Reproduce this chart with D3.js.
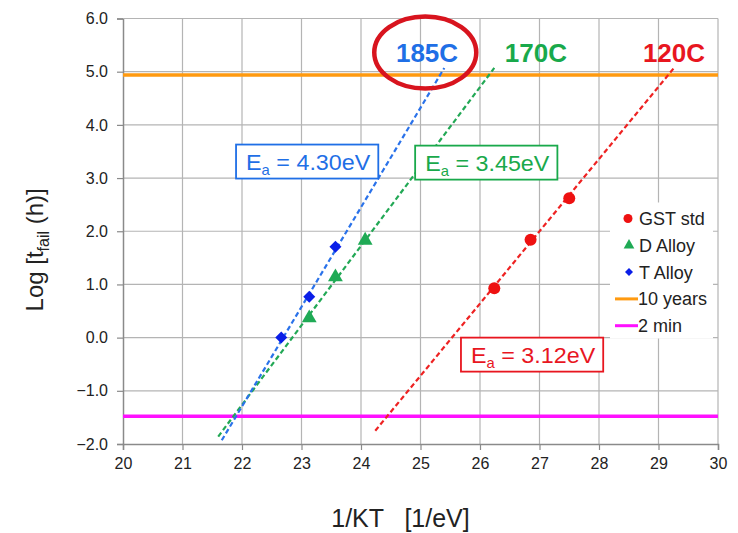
<!DOCTYPE html>
<html>
<head>
<meta charset="utf-8">
<script src="https://cdn.jsdelivr.net/npm/d3@7"></script>
<style>
  body { margin: 0; background: #fff; }
  svg text { font-family: "Liberation Sans", Arial, sans-serif; }
</style>
</head>
<body>
<div id="chart"></div>
<script>
// measured points (1/KT, log t_fail)
var gstPoints = [[26.24, 0.93], [26.85, 1.84], [27.50, 2.62]];
var dAlloyPoints = [[23.13, 0.35], [23.57, 1.12], [24.07, 1.81]];
var tAlloyPoints = [[22.66, 0.00], [23.13, 0.77], [23.57, 1.71]];

// dashed Arrhenius fit lines, start and end
var gstFit = [[24.24, -1.75], [29.26, 5.07]];
var dAlloyFit = [[21.60, -1.86], [26.24, 5.07]];
var tAlloyFit = [[21.66, -1.93], [25.40, 5.07]];

// reference lines
var tenYears = 4.94;   // log10(87600 h)
var twoMin = -1.48;    // log10(2/60 h)

var xTicks = [20, 21, 22, 23, 24, 25, 26, 27, 28, 29, 30];
var yTicks = [-2, -1, 0, 1, 2, 3, 4, 5, 6];

var tempLabels = [
  {text: "185C", x: 25.11, y: 5.19, color: "#1f6fe6"},
  {text: "170C", x: 26.94, y: 5.19, color: "#19a94b"},
  {text: "120C", x: 29.26, y: 5.19, color: "#e8161f"}
];
var eaBoxes = [
  {value: "4.30eV", x: 21.90, y: 3.63, color: "#1f6fe6"},
  {value: "3.45eV", x: 24.91, y: 3.61, color: "#19a94b"},
  {value: "3.12eV", x: 25.68, y: 0.00, color: "#e8161f"}
];

var margin = {top: 18.5, right: 20, bottom: 89, left: 123},
    width = 738 - margin.left - margin.right,
    height = 533 - margin.top - margin.bottom;

var svg = d3.select("#chart").append("svg")
    .attr("width", 738).attr("height", 533)
  .append("g")
    .attr("transform", "translate(" + margin.left + "," + margin.top + ")");

var x = d3.scaleLinear().domain([20, 30]).range([0, width]);
var y = d3.scaleLinear().domain([-2, 6]).range([height, 0]);

// grid
svg.append("g").selectAll("line").data(xTicks.slice(1)).enter().append("line")
    .attr("x1", function(d){ return x(d); }).attr("x2", function(d){ return x(d); })
    .attr("y1", 0).attr("y2", height)
    .attr("stroke", "#b4b4b4").attr("stroke-width", 1.2);
svg.append("g").selectAll("line").data(yTicks.slice(1)).enter().append("line")
    .attr("x1", 0).attr("x2", width)
    .attr("y1", function(d){ return y(d); }).attr("y2", function(d){ return y(d); })
    .attr("stroke", "#b4b4b4").attr("stroke-width", 1.2);

// axes
var xAxis = svg.append("g")
    .attr("transform", "translate(0," + height + ")")
    .call(d3.axisBottom(x).tickValues(xTicks).tickSize(6).tickPadding(8).tickFormat(d3.format("d")));
var yAxis = svg.append("g")
    .call(d3.axisLeft(y).tickValues(yTicks).tickSize(6).tickPadding(9).tickFormat(d3.format(".1f")));
[xAxis, yAxis].forEach(function(a){
  a.select(".domain").attr("stroke", "#8a8a8a").attr("stroke-width", 1.5);
  a.selectAll(".tick line").attr("stroke", "#8a8a8a").attr("stroke-width", 1.2);
  a.selectAll(".tick text").attr("fill", "#222").style("font-size", "16px")
    .style("font-family", "'Liberation Sans', Arial, sans-serif");
});
// top frame
svg.append("line").attr("x1", 0).attr("x2", width).attr("y1", 0).attr("y2", 0)
    .attr("stroke", "#b4b4b4").attr("stroke-width", 1.2);

// reference lines
svg.append("line").attr("x1", 0).attr("x2", width)
    .attr("y1", y(tenYears)).attr("y2", y(tenYears))
    .attr("stroke", "#ff9a10").attr("stroke-width", 3.5);
svg.append("line").attr("x1", 0).attr("x2", width)
    .attr("y1", y(twoMin)).attr("y2", y(twoMin))
    .attr("stroke", "#ff10ff").attr("stroke-width", 3.5);

// fit lines
var line = d3.line().x(function(d){ return x(d[0]); }).y(function(d){ return y(d[1]); });
[[gstFit, "#ee2222"], [dAlloyFit, "#22a855"], [tAlloyFit, "#2a72ea"]].forEach(function(f){
  svg.append("path").datum(f[0]).attr("d", line)
    .attr("fill", "none").attr("stroke", f[1]).attr("stroke-width", 2.2)
    .attr("stroke-dasharray", "5,3");
});

// markers
svg.append("g").selectAll("circle").data(gstPoints).enter().append("circle")
    .attr("cx", function(d){ return x(d[0]); }).attr("cy", function(d){ return y(d[1]); })
    .attr("r", 6).attr("fill", "#ee1111");
svg.append("g").selectAll("path").data(dAlloyPoints).enter().append("path")
    .attr("d", d3.symbol().type(d3.symbolTriangle).size(95))
    .attr("transform", function(d){ return "translate(" + x(d[0]) + "," + (y(d[1]) - 1) + ")"; })
    .attr("fill", "#1faa55");
svg.append("g").selectAll("path").data(tAlloyPoints).enter().append("path")
    .attr("d", d3.symbol().type(d3.symbolSquare).size(72))
    .attr("transform", function(d){ return "translate(" + x(d[0]) + "," + y(d[1]) + ") rotate(45)"; })
    .attr("fill", "#0a1ee8");

// Ea boxes (text is a bit stretched horizontally in the original)
eaBoxes.forEach(function(b){
  var g = svg.append("g").attr("transform", "translate(" + x(b.x) + "," + y(b.y) + ")");
  var rect = g.append("rect").attr("fill", "#fff").attr("stroke", b.color).attr("stroke-width", 1.8);
  var t = g.append("text").attr("transform", "translate(10,25) scale(1.06,1)")
      .attr("fill", b.color).style("font-size", "22px");
  t.append("tspan").text("E");
  t.append("tspan").attr("dy", 5).style("font-size", "14px").text("a");
  t.append("tspan").attr("dy", -5).text(" = " + b.value);
  var w = t.node().getComputedTextLength() * 1.06;
  rect.attr("width", w + 18).attr("height", 34);
});

// temperature labels
svg.selectAll(".temp").data(tempLabels).enter().append("text")
    .attr("x", function(d){ return x(d.x); }).attr("y", function(d){ return y(d.y); })
    .attr("text-anchor", "middle").attr("fill", function(d){ return d.color; })
    .style("font-size", "26px").style("font-weight", "bold")
    .text(function(d){ return d.text; });
svg.append("ellipse")
    .attr("cx", x(25.08)).attr("cy", y(5.36)).attr("rx", 51).attr("ry", 36)
    .attr("fill", "none").attr("stroke", "#d8141e").attr("stroke-width", 4.5);

// legend
var legend = svg.append("g").attr("transform", "translate(" + (width - 108) + "," + 184 + ")");
legend.append("rect").attr("x", 0).attr("y", 0).attr("width", 103).attr("height", 136).attr("fill", "#fff");
var items = [
  {label: "GST std", type: "circle", color: "#ee1111"},
  {label: "D Alloy", type: "tri", color: "#1faa55"},
  {label: "T Alloy", type: "dia", color: "#0a1ee8"},
  {label: "10 years", type: "line", color: "#ff9a10"},
  {label: "2 min", type: "line", color: "#ff10ff"}
];
items.forEach(function(it, i){
  var cy = 16 + i * 26.8;
  if (it.type === "circle") legend.append("circle").attr("cx", 18).attr("cy", cy).attr("r", 4.5).attr("fill", it.color);
  if (it.type === "tri") legend.append("path").attr("d", d3.symbol().type(d3.symbolTriangle).size(50))
      .attr("transform", "translate(19," + cy + ")").attr("fill", it.color);
  if (it.type === "dia") legend.append("path").attr("d", d3.symbol().type(d3.symbolSquare).size(32))
      .attr("transform", "translate(19," + cy + ") rotate(45)").attr("fill", it.color);
  if (it.type === "line") legend.append("line").attr("x1", 5).attr("x2", 28).attr("y1", cy).attr("y2", cy)
      .attr("stroke", it.color).attr("stroke-width", 3);
  legend.append("text").attr("x", it.type === "line" ? 28 : 29).attr("y", cy + 6.5)
      .attr("fill", "#222").style("font-size", "18px").text(it.label);
});

// axis titles
svg.append("text")
    .attr("x", width / 2 - 20).attr("y", height + 83)
    .attr("text-anchor", "middle").attr("fill", "#222").style("font-size", "25px")
    .attr("xml:space", "preserve")
    .text("1/KT   [1/eV]");
var yt = svg.append("text")
    .attr("transform", "translate(-80," + (y(1.65)) + ") rotate(-90)")
    .attr("text-anchor", "middle").attr("fill", "#222").style("font-size", "24px");
yt.append("tspan").text("Log [t");
yt.append("tspan").attr("dy", 6).style("font-size", "16px").text("fail");
yt.append("tspan").attr("dy", -6).text(" (h)]");
</script>
</body>
</html>
